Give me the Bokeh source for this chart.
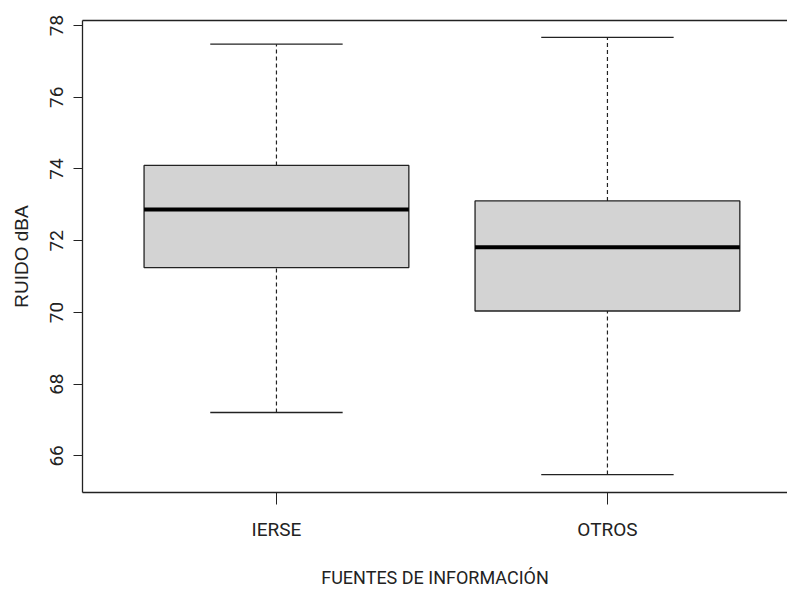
from bokeh.plotting import figure
from bokeh.models import Range1d, LinearAxis, FixedTicker
from bokeh.embed import file_html
from bokeh.resources import INLINE

# ---- data ----
categories = ["IERSE", "OTROS"]
lower_whisker = [67.21, 65.48]
q1 = [71.25, 70.04]
median = [72.87, 71.82]
q3 = [74.10, 73.11]
upper_whisker = [77.48, 77.67]
y_ticks = [66, 68, 70, 72, 74, 76, 78]
x_title = "FUENTES DE INFORMACIÓN"
y_title = "RUIDO dBA"

pos = list(range(1, len(categories) + 1))
box_w = 0.8
cap_w = 0.4

TXT = "#222222"
NARROW = "Roboto"
REG = "Liberation Sans"

p = figure(width=787, height=591, output_backend="svg", toolbar_location=None,
           x_range=Range1d(0.414, 2.544), y_range=Range1d(64.98, 78.14),
           x_axis_location=None, y_axis_location=None,
           min_border_left=82, min_border_right=0, min_border_top=20, min_border_bottom=99)
p.outline_line_color = None
p.grid.visible = False
p.background_fill_color = "white"
p.border_fill_color = "white"

# whiskers (dashed)
p.segment(x0=pos, y0=q3, x1=pos, y1=upper_whisker, line_color="#222222", line_width=1.2, line_dash="4 3")
p.segment(x0=pos, y0=lower_whisker, x1=pos, y1=q1, line_color="#222222", line_width=1.2, line_dash="4 3")
# caps
p.segment(x0=[x - cap_w / 2 for x in pos], y0=upper_whisker, x1=[x + cap_w / 2 for x in pos], y1=upper_whisker,
          line_color="#222222", line_width=1.3)
p.segment(x0=[x - cap_w / 2 for x in pos], y0=lower_whisker, x1=[x + cap_w / 2 for x in pos], y1=lower_whisker,
          line_color="#222222", line_width=1.3)
# boxes
p.vbar(x=pos, width=box_w, bottom=q1, top=q3, fill_color="#D3D3D3", line_color="#222222", line_width=1.3)
# medians
p.segment(x0=[x - box_w / 2 for x in pos], y0=median, x1=[x + box_w / 2 for x in pos], y1=median,
          line_color="black", line_width=4)

# left axis
ya = LinearAxis(ticker=FixedTicker(ticks=y_ticks), axis_label=y_title)
ya.major_label_orientation = "vertical"
ya.major_label_text_font = NARROW
ya.major_label_text_font_size = "19px"
ya.major_label_text_color = TXT
ya.major_label_standoff = 10
ya.major_tick_out = 9
ya.major_tick_in = 0
ya.minor_tick_out = 0
ya.minor_tick_in = 0
ya.major_tick_line_color = "#222222"
ya.axis_line_color = "#222222"
ya.axis_line_width = 1.3
ya.axis_label_text_font = REG
ya.axis_label_text_font_style = "normal"
ya.axis_label_text_font_size = "19px"
ya.axis_label_text_color = TXT
ya.axis_label_standoff = 16
p.add_layout(ya, "left")

# bottom axis
xa = LinearAxis(ticker=FixedTicker(ticks=pos), axis_label=x_title)
xa.major_label_overrides = {x: c for x, c in zip(pos, categories)}
xa.major_label_text_font = NARROW
xa.major_label_text_font_size = "19px"
xa.major_label_text_color = TXT
xa.major_label_standoff = 13
xa.major_tick_out = 12
xa.major_tick_in = 0
xa.minor_tick_out = 0
xa.minor_tick_in = 0
xa.major_tick_line_color = "#222222"
xa.axis_line_color = "#222222"
xa.axis_line_width = 1.3
xa.axis_label_text_font = NARROW
xa.axis_label_text_font_style = "normal"
xa.axis_label_text_font_size = "18px"
xa.axis_label_text_color = TXT
xa.axis_label_standoff = 23
p.add_layout(xa, "below")

# top frame line
ta = LinearAxis(ticker=FixedTicker(ticks=[]))
ta.major_tick_out = 0
ta.major_tick_in = 0
ta.minor_tick_out = 0
ta.minor_tick_in = 0
ta.major_label_text_font_size = "0px"
ta.axis_line_color = "#222222"
ta.axis_line_width = 1.3
p.add_layout(ta, "above")

open("out.html", "w").write(file_html(p, INLINE))
